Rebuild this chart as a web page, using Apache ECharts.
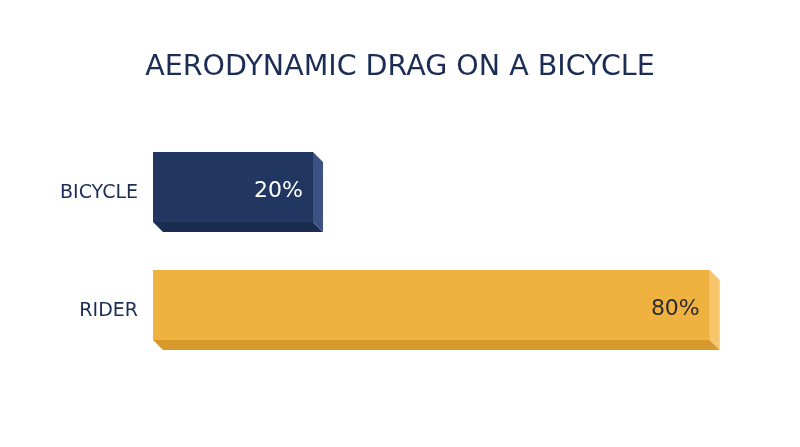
<!DOCTYPE html>
<html>
<head>
<meta charset="UTF-8">
<title>Aerodynamic drag on a bicycle</title>
<style>
  * { margin: 0; padding: 0; }
  body { background: #ffffff; }
  #chart { width: 800px; height: 447px; }
</style>
</head>
<body>
<div id="chart"></div>
<script src="https://cdn.jsdelivr.net/npm/echarts@6/dist/echarts.min.js"></script>
<script>
  // data
  var categories = ['BICYCLE', 'RIDER'];
  var values = [20, 80];
  var valueLabels = ['20%', '80%'];

  // front / side / bottom colours for each bar
  var faceColors = [
    { front: '#213762', side: '#3b5283', bottom: '#1a2c50', text: '#ffffff' },
    { front: '#f0b23f', side: '#f6c56c', bottom: '#d7982c', text: '#2b2b35' }
  ];

  var xMin = -4.2;
  var depth = 10;

  var chart = echarts.init(document.getElementById('chart'));

  function renderBar(params, api) {
    var idx = params.dataIndex;
    var end = api.coord([api.value(0), api.value(1)]);
    var start = api.coord([xMin, api.value(1)]);
    var cy = end[1];
    var x0 = start[0], x1 = end[0];
    var top = cy - 41, bot = cy + 29;
    var c = faceColors[idx];
    return {
      type: 'group',
      children: [
        {
          type: 'polygon',
          shape: { points: [[x0, bot], [x1, bot], [x1 + depth, bot + depth], [x0 + depth, bot + depth]] },
          style: { fill: c.bottom }
        },
        {
          type: 'polygon',
          shape: { points: [[x1, top], [x1 + depth, top + depth], [x1 + depth, bot + depth], [x1, bot]] },
          style: { fill: c.side }
        },
        {
          type: 'rect',
          shape: { x: x0, y: top, width: x1 - x0, height: bot - top },
          style: { fill: c.front }
        },
        {
          type: 'text',
          style: {
            x: x1 - 10,
            y: cy - 2,
            text: valueLabels[idx],
            fill: c.text,
            font: '22px "DejaVu Sans"',
            align: 'right',
            verticalAlign: 'middle'
          }
        }
      ]
    };
  }

  var option = {
    animation: false,
    title: {
      text: 'AERODYNAMIC DRAG ON A BICYCLE',
      left: 'center',
      top: 48,
      textStyle: {
        fontFamily: 'DejaVu Sans',
        fontSize: 28.5,
        fontWeight: 'normal',
        color: '#1c2d55'
      }
    },
    grid: { left: 153, right: 77, top: 134, height: 236 },
    xAxis: {
      type: 'value',
      min: xMin,
      max: 82,
      show: false
    },
    yAxis: {
      type: 'category',
      inverse: true,
      data: categories,
      axisLine: { show: false },
      axisTick: { show: false },
      axisLabel: {
        margin: 15,
        fontFamily: 'DejaVu Sans',
        fontSize: 19,
        color: '#1c2d55'
      }
    },
    series: [{
      type: 'custom',
      renderItem: renderBar,
      encode: { x: 0, y: 1 },
      data: values.map(function (v, i) { return [v, i]; })
    }]
  };

  chart.setOption(option);
</script>
</body>
</html>
